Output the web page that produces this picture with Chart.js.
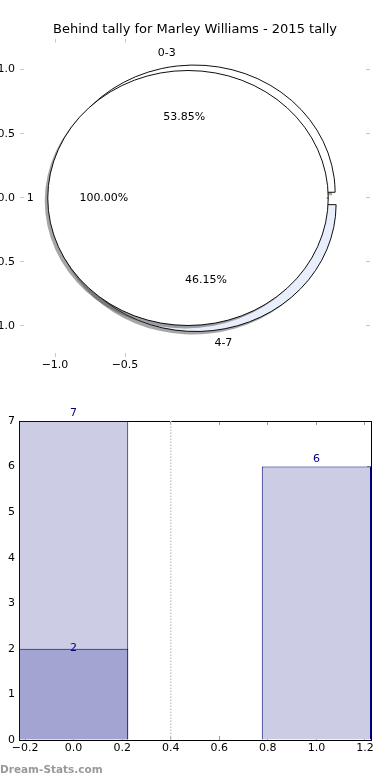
<!DOCTYPE html>
<html>
<head>
<meta charset="utf-8">
<script src="https://cdn.jsdelivr.net/npm/chart.js@4.4.1/dist/chart.umd.min.js"></script>
<style>
  html, body { margin: 0; padding: 0; background: #fff; overflow: hidden; }
  body { width: 390px; height: 780px; position: relative; }
  canvas { position: absolute; }
  #axesTop { left: -20px; top: 0; }
  #outerPie, #innerPie { left: 0; top: 0; }
  #barChart { left: 0; top: 390px; }
  #mark { position: absolute; left: 0; top: 763px; font: bold 10.5px 'DejaVu Sans', sans-serif; color: #999; }
</style>
</head>
<body>
<canvas id="axesTop" width="430" height="380"></canvas>
<canvas id="outerPie" width="390" height="396"></canvas>
<canvas id="innerPie" width="390" height="396"></canvas>
<canvas id="barChart" width="390" height="390"></canvas>
<div id="mark">Dream-Stats.com</div>
<script>
const chartTitle = 'Behind tally for Marley Williams - 2015 tally';

// outer pie: behind counts grouped
const outerLabels = ['0-3', '4-7'];
const outerValues = [7, 6];
const outerColors = ['#ffffff', '#e8eefb'];

// inner pie
const innerLabels = ['1'];
const innerValues = [1];

// ticks left on the pie axes
const pieXTicks = [-1.0, -0.5];
const pieYTicks = [-1.0, -0.5, 0.0, 0.5, 1.0];

// bar chart
const barX = [0, 1];
const barTotals = [7, 6];
const barInnerX = [0];
const barInner = [2];
const dividerX = 0.4;
const barXTicks = [-0.2, 0.0, 0.2, 0.4, 0.6, 0.8, 1.0, 1.2];
const barYTicks = [0, 1, 2, 3, 4, 5, 6, 7];

const BAR_WIDTH = 0.45;
const TICK_STEP = 0.2;
const STRETCH = 1.1;   // pie axes are not square, so the pie is an ellipse
const INNER_R = 127.5;

Chart.defaults.font.family = "'DejaVu Sans', sans-serif";
Chart.defaults.font.size = 11;
Chart.defaults.color = '#000';

const fmt = v => Number(v).toFixed(1).replace('-', '\u2212');
const setTicks = list => axis => { axis.ticks = list.map(v => ({value: v})); };

function tickAxis(position, list, min, max, size, pad, showLabels, tickColor, border, fmtFn) {
  return {
    type: 'linear', position, min, max, offset: false,
    afterBuildTicks: setTicks(list),
    afterFit: a => { if (a.isHorizontal()) a.height = size; else a.width = size; },
    ticks: {display: showLabels, padding: pad, callback: fmtFn, autoSkip: false, maxRotation: 0},
    grid: {drawOnChartArea: false, offset: false, tickLength: -4, tickColor, tickWidth: 1},
    border: {display: border, color: '#000', width: 1}
  };
}

// ---- top axes (ticks + title only) ----
new Chart(document.getElementById('axesTop'), {
  type: 'scatter',
  data: {datasets: []},
  options: {
    responsive: false, animation: false,
    plugins: {
      legend: {display: false}, tooltip: {enabled: false},
      title: {display: true, text: chartTitle, font: {size: 13, weight: 'normal'}, padding: {top: 22, bottom: 1}}
    },
    scales: {
      x: tickAxis('bottom', pieXTicks, -1.25, 1.25, 23, 6, true, '#c8c8c8', false, fmt),
      x2: tickAxis('top', pieXTicks, -1.25, 1.25, 0, 0, false, '#c8c8c8', false, fmt),
      y: tickAxis('left', pieYTicks, -1.242, 1.242, 40, 9, true, '#c8c8c8', false, fmt),
      y2: tickAxis('right', pieYTicks, -1.242, 1.242, 40, 0, false, '#c8c8c8', false, fmt)
    }
  }
});

// ---- pies ----
// stretch to an ellipse and add a matplotlib-like drop shadow (fills only)
function stretchPlugin() {
  return {
    id: 'stretch',
    beforeDatasetsDraw(chart) {
      const el = chart.getDatasetMeta(0).data[0];
      const ctx = chart.ctx;
      ctx.save();
      ctx.translate(el.x, el.y);
      ctx.scale(STRETCH, 1);
      ctx.translate(-el.x, -el.y);
      ctx.shadowColor = 'rgba(77,77,77,0.5)';
      ctx.shadowOffsetX = -3;
      ctx.shadowOffsetY = 3;
      const stroke = ctx.stroke;
      ctx.stroke = function(...args) {
        this.save();
        this.shadowColor = 'rgba(0,0,0,0)';
        stroke.apply(this, args);
        this.restore();
      };
    },
    afterDatasetsDraw(chart) {
      delete chart.ctx.stroke;
      chart.ctx.restore();
    }
  };
}

function drawPieLabels(ctx, chart) {
  const meta = chart.getDatasetMeta(0);
  const values = chart.data.datasets[0].data;
  const total = values.reduce((a, b) => a + b, 0);
  ctx.save();
  ctx.font = "11px 'DejaVu Sans', sans-serif";
  ctx.fillStyle = '#000';
  ctx.textBaseline = 'middle';
  meta.data.forEach((arc, i) => {
    const p = arc.getProps(['x', 'y', 'startAngle', 'endAngle', 'outerRadius', 'circumference']);
    const mid = (p.startAngle + p.endAngle) / 2;
    const fix = 1 - Math.sin(Math.min(Math.PI, p.circumference));
    const shift = (arc.options.offset || 0) / 4;          // how chart.js moves a slice out
    const r = p.outerRadius + shift * fix;
    const cx = Math.cos(mid), cy = Math.sin(mid);
    const at = d => [p.x + cx * (shift + r * d) * STRETCH, p.y + cy * (shift + r * d)];
    let [lx, ly] = at(1.1);
    ctx.textAlign = cx < -0.001 ? 'right' : 'left';
    ctx.fillText(chart.data.labels[i], lx, ly);
    [lx, ly] = at(0.6);
    ctx.textAlign = 'center';
    ctx.fillText((values[i] / total * 100).toFixed(2) + '%', lx, ly);
  });
  ctx.restore();
}

// chart.js goes clockwise, matplotlib counter-clockwise: reverse the order
const outerChart = new Chart(document.getElementById('outerPie'), {
  type: 'pie',
  data: {
    labels: outerLabels.slice().reverse(),
    datasets: [{
      data: outerValues.slice().reverse(),
      backgroundColor: outerColors.slice().reverse(),
      borderColor: '#000', borderWidth: 0.9,
      offset: [24, 20]
    }]
  },
  options: {
    responsive: false, animation: false, rotation: 90, radius: 123,
    plugins: {legend: {display: false}, tooltip: {enabled: false}}
  },
  plugins: [stretchPlugin()]
});

// the single slice is exploded to the left: done with the layout padding.
// the dash stops the outline before the radius line back to the centre.
new Chart(document.getElementById('innerPie'), {
  type: 'pie',
  data: {
    labels: innerLabels,
    datasets: [{
      data: innerValues,
      backgroundColor: '#ffffff',
      borderColor: '#000', borderWidth: 0.9,
      borderDash: [2 * Math.PI * INNER_R + 1, 4000]
    }]
  },
  options: {
    responsive: false, animation: false, rotation: 90, radius: INNER_R,
    layout: {padding: {right: 14}},
    plugins: {legend: {display: false}, tooltip: {enabled: false}}
  },
  plugins: [stretchPlugin(), {
    id: 'pieLabels',
    afterDraw(chart) {
      drawPieLabels(chart.ctx, outerChart);
      drawPieLabels(chart.ctx, chart);
    }
  }]
});

// ---- bar chart ----
const barLabels = {
  id: 'barLabels',
  afterDatasetsDraw(chart) {
    const ctx = chart.ctx;
    ctx.save();
    ctx.font = "11px 'DejaVu Sans', sans-serif";
    ctx.fillStyle = '#000080';
    ctx.textAlign = 'center';
    ctx.textBaseline = 'alphabetic';
    chart.data.datasets.forEach((ds, di) => {
      if (ds.type === 'line') return;
      chart.getDatasetMeta(di).data.forEach((el, i) => {
        ctx.fillText(String(ds.data[i].y), el.x, el.y - ds.labelLift);
      });
    });
    ctx.restore();
  }
};

new Chart(document.getElementById('barChart'), {
  type: 'bar',
  data: {
    datasets: [
      {
        data: barInnerX.map((x, i) => ({x, y: barInner[i]})),
        backgroundColor: '#a3a4d1', borderColor: '#000080', borderWidth: 1,
        grouped: false, labelLift: -2
      },
      {
        data: barX.map((x, i) => ({x, y: barTotals[i]})),
        backgroundColor: '#cccce5', borderColor: '#000080', borderWidth: 1,
        grouped: false, labelLift: 5
      },
      {
        type: 'line',
        data: [{x: dividerX, y: barYTicks[0]}, {x: dividerX, y: barYTicks[barYTicks.length - 1]}],
        borderColor: '#c8c8c8', borderWidth: 1.5, borderDash: [1.5, 1.5], pointRadius: 0
      }
    ]
  },
  options: {
    responsive: false, animation: false,
    barPercentage: BAR_WIDTH / TICK_STEP, categoryPercentage: 1,
    layout: {padding: {top: 31, right: 19, bottom: 20, left: 0}},
    plugins: {legend: {display: false}, tooltip: {enabled: false}},
    scales: {
      x: tickAxis('bottom', barXTicks, -0.225, 1.225, 20, 6, true, '#999', true, fmt),
      x2: tickAxis('top', barXTicks, -0.225, 1.225, 0, 0, false, '#999', true, fmt),
      y: tickAxis('left', barYTicks, 0, 7, 19, 8, true, '#999', true, v => String(v)),
      y2: tickAxis('right', barYTicks, 0, 7, 0, 0, false, '#999', true, v => String(v))
    }
  },
  plugins: [barLabels]
});
</script>
</body>
</html>
